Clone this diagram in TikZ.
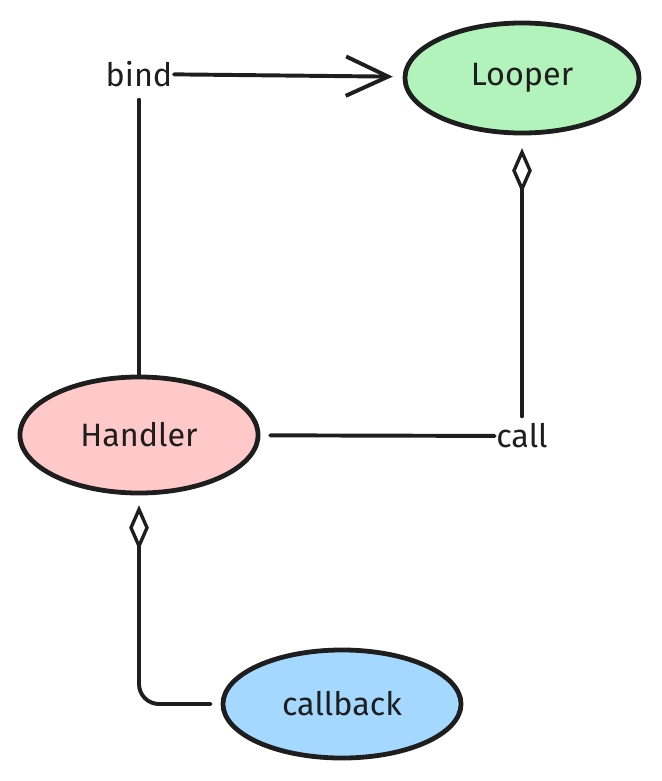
\documentclass[tikz,border=0pt]{standalone}
\usepackage{fontspec}
\setmainfont{Fira Sans}
\usetikzlibrary{arrows.meta,shapes.geometric}
\definecolor{ink}{HTML}{1E1E1E}
\definecolor{looperfill}{HTML}{B2F2BB}
\definecolor{handlerfill}{HTML}{FFC9C9}
\definecolor{callbackfill}{HTML}{A5D8FF}
\begin{document}
\begin{tikzpicture}[x=0.025cm,y=-0.025cm,
		every node/.style={text=ink,font=\fontsize{23}{26}\selectfont},
		blob/.style={ellipse,draw=ink,line width=3.4pt,inner sep=0pt},
		link/.style={draw=ink,line width=2.8pt,line cap=round},
		hold/.style={link,-{Diamond[open,length=32pt,width=14pt,line width=2.4pt]}}]
	\useasboundingbox (0,0) rectangle (662,781);
	% entities
	\node[blob,fill=looperfill,minimum width=5.85cm,minimum height=2.75cm] (looper) at (522,78) {Looper};
	\node[blob,fill=handlerfill,minimum width=5.95cm,minimum height=2.9cm] (handler) at (139,435) {Handler};
	\node[blob,fill=callbackfill,minimum width=5.95cm,minimum height=2.7cm] (callback) at (342,704) {callback};
	% labels on the links
	\node[inner sep=1pt] (bind) at (139,74) {bind};
	\node[inner sep=1pt] (call) at (522,436) {call};
	% links
	\draw[link,-{Straight Barb[length=30pt,width=28pt,line width=2.8pt]},shorten >=7pt] (bind) -- (looper);
	\draw[link,shorten <=8pt] (bind) -- (handler);
	\draw[link,shorten <=7pt] (handler) -- (call);
	\draw[hold,shorten <=4pt,shorten >=9pt] (call) -- (looper);
	\draw[hold,rounded corners=0.5cm,shorten <=7pt,shorten >=7pt] (callback.west) -| (handler.south);
\end{tikzpicture}
\end{document}
